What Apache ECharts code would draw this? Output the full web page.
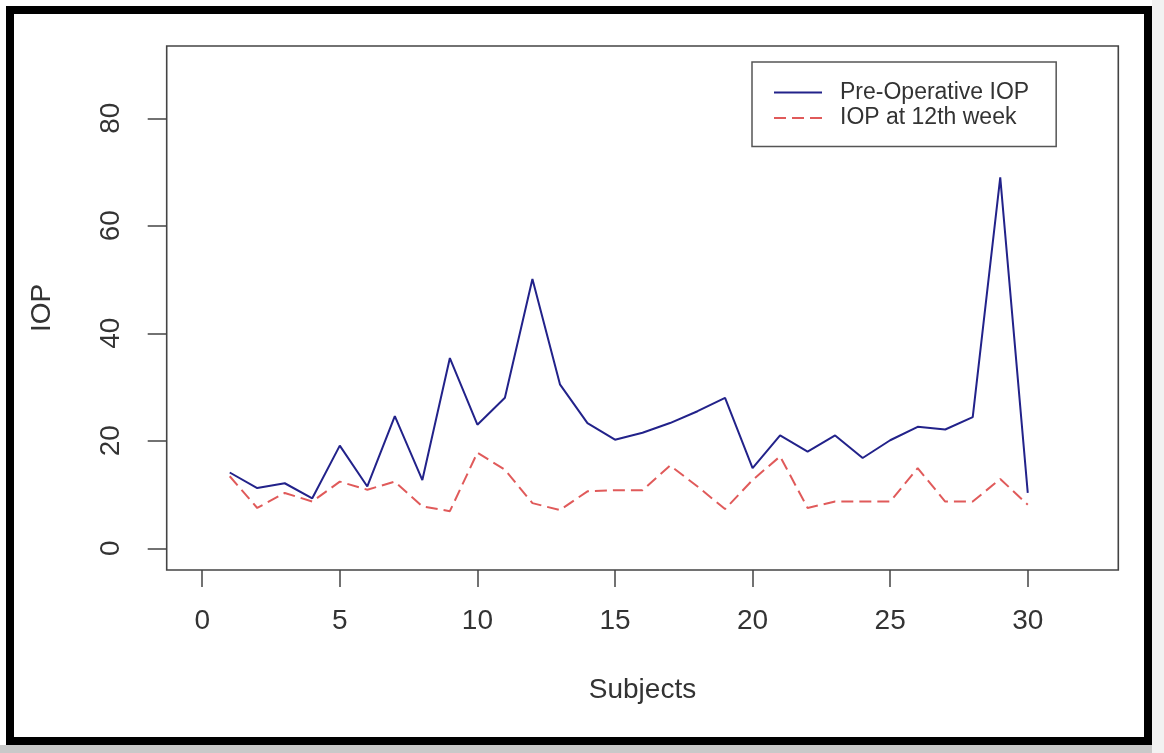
<!DOCTYPE html>
<html>
<head>
<meta charset="utf-8">
<script src="https://cdn.jsdelivr.net/npm/echarts@6/dist/echarts.min.js"></script>
<style>
html,body{margin:0;padding:0;background:#fff;}
#chart{width:1164px;height:753px;}
</style>
</head>
<body>
<div id="chart"></div>
<script>
const subjects = [1,2,3,4,5,6,7,8,9,10,11,12,13,14,15,16,17,18,19,20,21,22,23,24,25,26,27,28,29,30];
const preOperative = [14.1,11.2,12.1,9.3,19.1,11.5,24.6,12.7,35.4,23.0,28.0,50.1,30.5,23.3,20.2,21.5,23.3,25.5,28.0,14.9,21.0,18.0,21.0,16.8,20.1,22.6,22.1,24.4,69.0,10.3];
const week12 = [13.4,7.5,10.3,8.7,12.4,10.9,12.4,7.8,6.9,17.8,14.6,8.4,7.1,10.6,10.8,10.8,15.4,11.5,7.3,12.7,17.1,7.5,8.7,8.7,8.7,14.9,8.7,8.7,12.9,8.1];
const xTicks = [0,5,10,15,20,25,30];
const yTicks = [0,20,40,60,80];
const seriesNames = ['Pre-Operative IOP','IOP at 12th week'];

const font = '"Liberation Sans", Arial, sans-serif';
const chart = echarts.init(document.getElementById('chart'), null, {renderer:'canvas'});
const zip = (xs, ys) => xs.map((x,i)=>[x, ys[i]]);

chart.setOption({
  backgroundColor:'#ffffff',
  animation:false,
  textStyle:{fontFamily:font},
  grid:{left:166.7, right:45.7, top:46, bottom:183, show:true, borderColor:'#444', borderWidth:1.6, backgroundColor:'transparent', containLabel:false, outerBoundsMode:'none'},
  xAxis:{
    type:'value', min:-1.29, max:33.29,
    name:'Subjects', nameLocation:'middle', nameGap:106,
    nameTextStyle:{fontSize:28, color:'#333', fontFamily:font},
    axisLine:{show:false, onZero:false},
    splitLine:{show:false},
    axisTick:{show:true, length:17, lineStyle:{color:'#444', width:1.5}, customValues:xTicks},
    axisLabel:{fontSize:28, color:'#333', margin:37, lineHeight:28, customValues:xTicks, fontFamily:font}
  },
  yAxis:{
    type:'value', min:-4.04, max:93.45,
    name:'IOP', nameLocation:'middle', nameGap:110, nameRotate:90,
    nameTextStyle:{fontSize:28, color:'#333', fontFamily:font},
    axisLine:{show:false, onZero:false},
    splitLine:{show:false},
    axisTick:{show:true, length:19, lineStyle:{color:'#444', width:1.5}, customValues:yTicks},
    axisLabel:{fontSize:28, color:'#333', margin:41, rotate:90, lineHeight:28, customValues:yTicks, fontFamily:font}
  },
  legend:{
    orient:'vertical', left:752, top:62,
    data:seriesNames,
    itemWidth:48, itemHeight:14, itemGap:2.4,
    padding:[19,27,17,21],
    borderColor:'#555', borderWidth:1.5,
    backgroundColor:'#fff',
    itemStyle:{opacity:0},
    textStyle:{fontSize:23, color:'#333', lineHeight:22, padding:[0,0,0,13], fontFamily:font}
  },
  series:[
    {name:seriesNames[0], type:'line', data:zip(subjects, preOperative), symbol:'none', lineStyle:{color:'#22228a', width:2}, itemStyle:{color:'#22228a'}},
    {name:seriesNames[1], type:'line', data:zip(subjects, week12), symbol:'none', lineStyle:{color:'#e05a5a', width:2, type:[12,6]}, itemStyle:{color:'#e05a5a'}}
  ],
  graphic:[
    {type:'rect', shape:{x:0, y:745, width:1164, height:8}, style:{fill:'#c9c9c9'}, silent:true},
    {type:'rect', shape:{x:1152, y:0, width:12, height:753}, style:{fill:'#f2f2f2'}, silent:true},
    {type:'rect', shape:{x:10, y:10, width:1138, height:731}, style:{fill:'none', stroke:'#000', lineWidth:8}, silent:true}
  ]
});
</script>
</body>
</html>
